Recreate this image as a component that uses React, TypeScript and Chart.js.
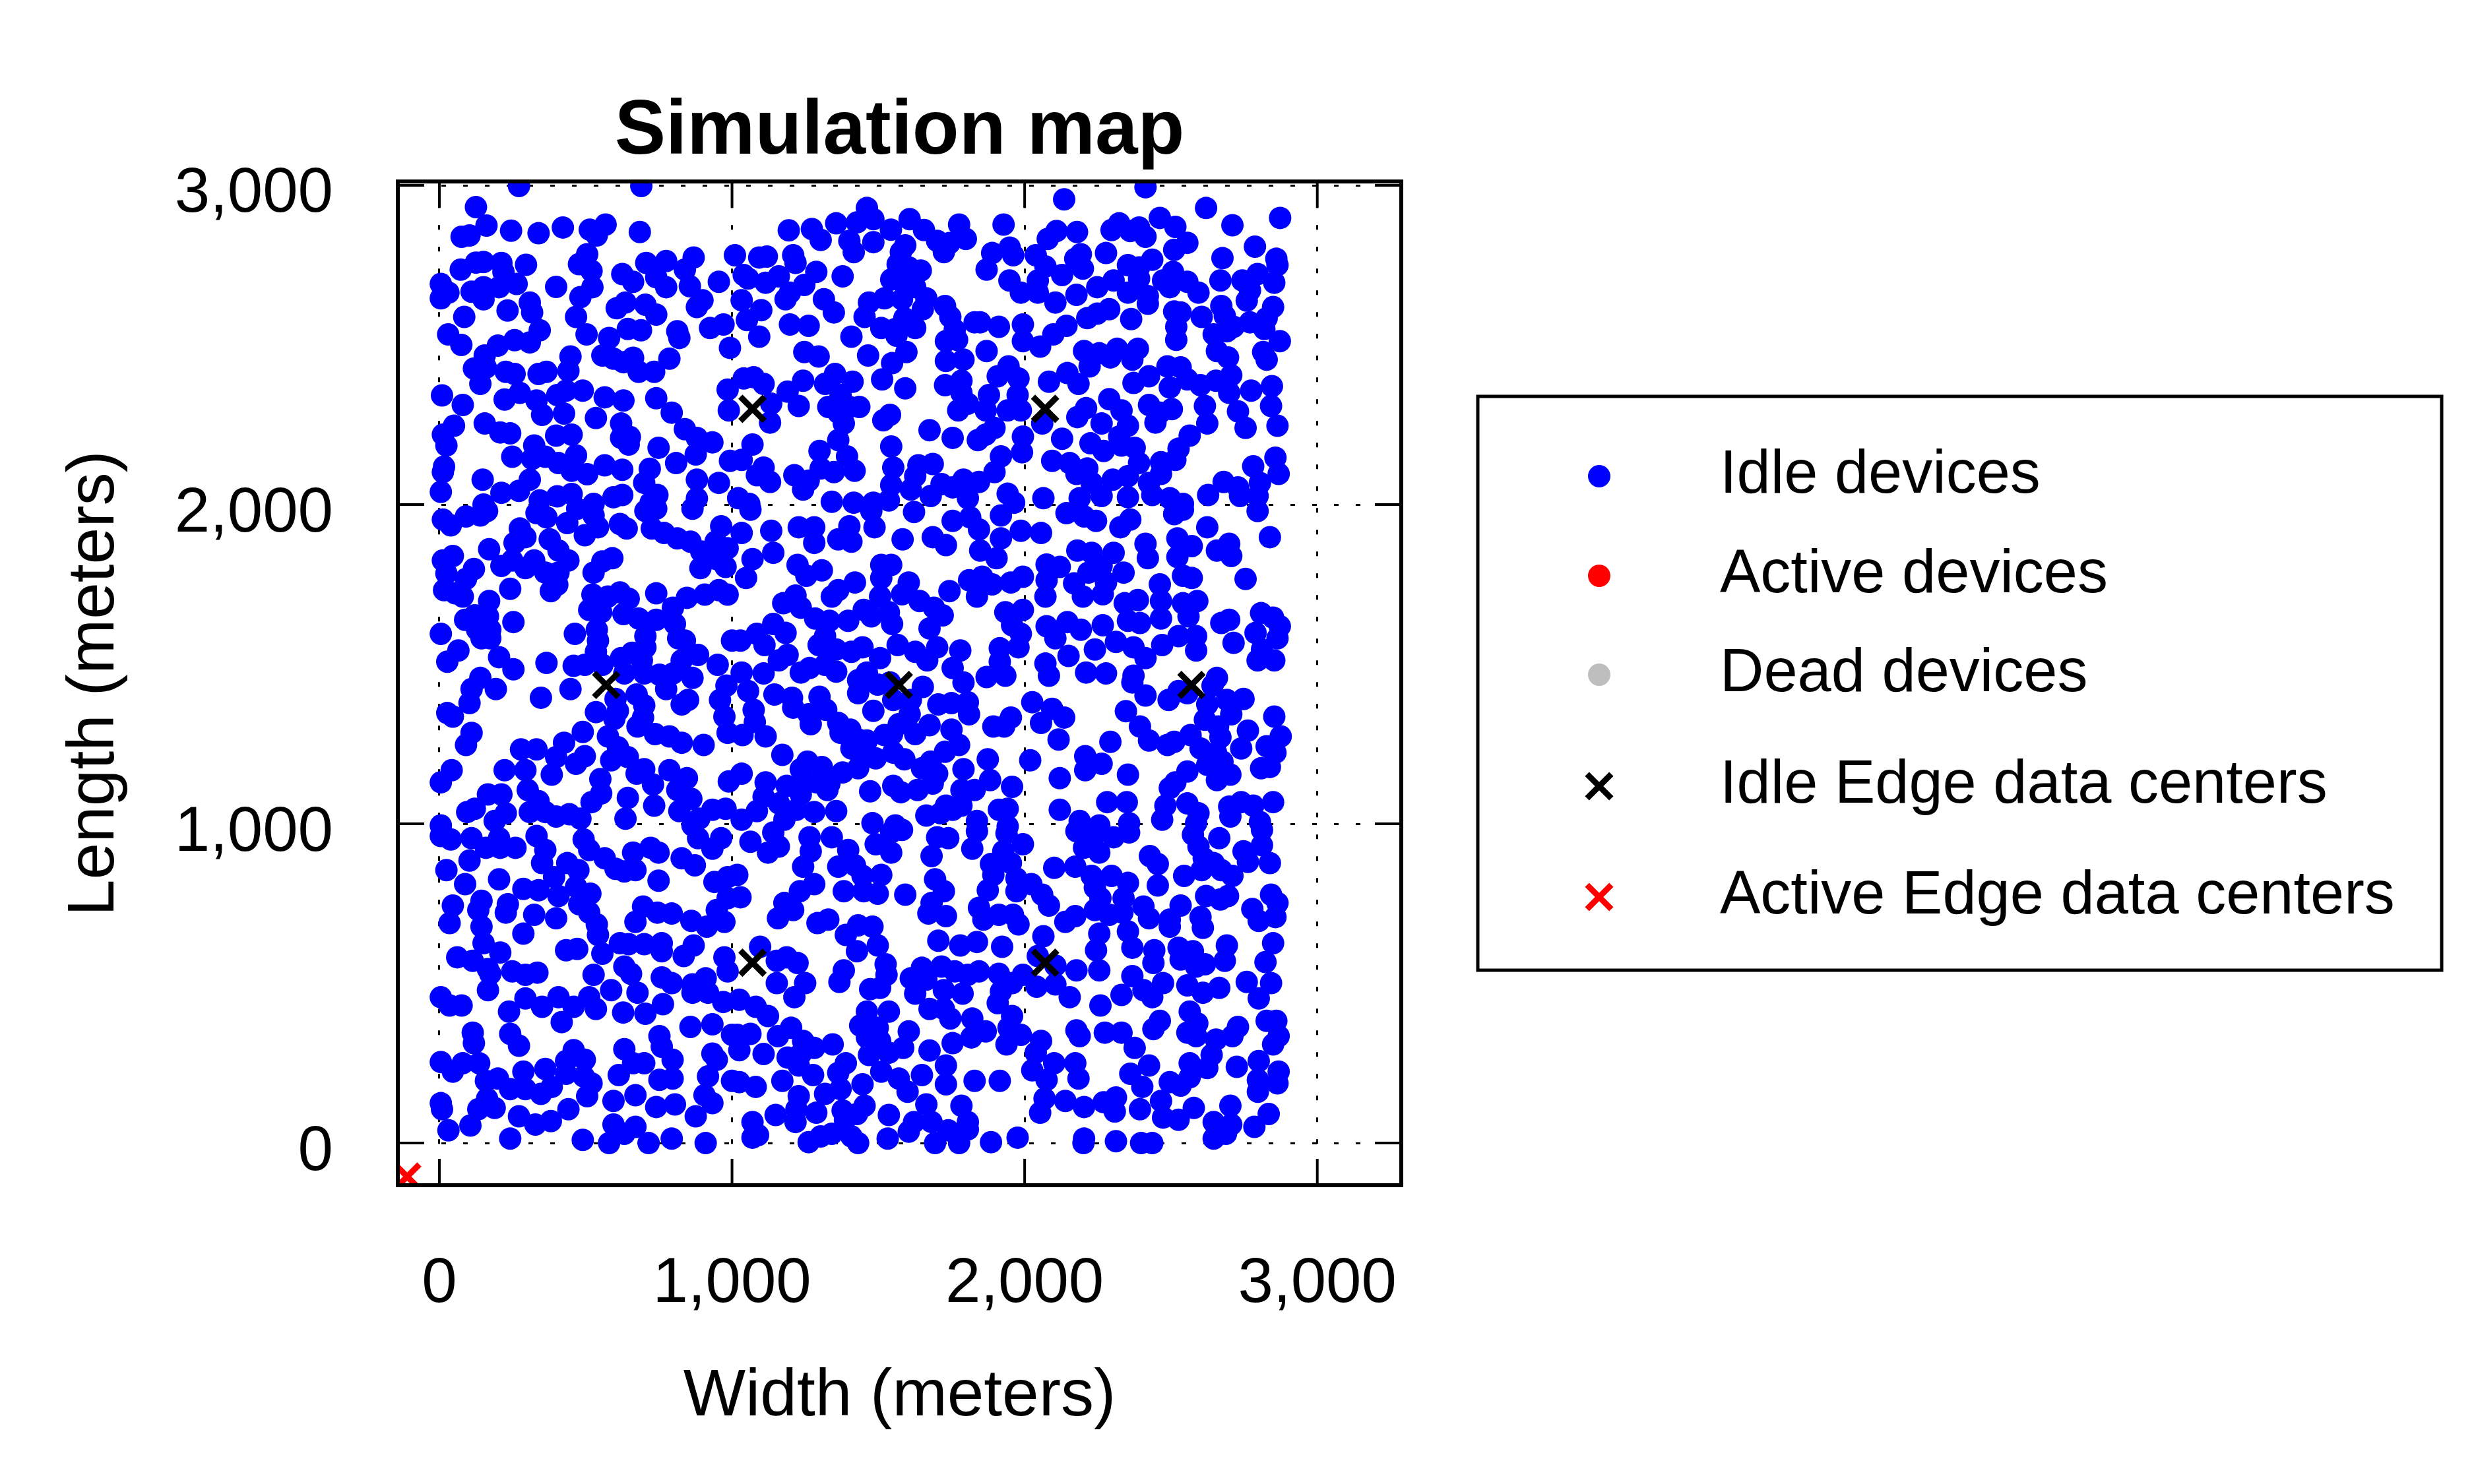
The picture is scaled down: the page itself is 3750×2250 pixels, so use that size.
import React, { useEffect, useRef } from "react";
import { Chart, registerables } from "chart.js";
import { drawPoint } from "chart.js/helpers";

Chart.register(...registerables);

const xTicks = [0, 1000, 2000, 3000];
const yTicks = [0, 1000, 2000, 3000];

// device positions in meters
const idleDevicesTop: [number, number][] = [
  [272,2998],[690,2998],[125,2932],[161,2874],[76,2839],[103,2843],[245,2858],[339,2850],[422,2868],[514,2861],[538,2843],[568,2877],[685,2854],[505,2784],[477,2753],[520,2732],[73,2736],[125,2758],[151,2760],[212,2757],[219,2729],[296,2751],[5,2691],[31,2664],[5,2646],[110,2667],[151,2681],[151,2643],[204,2681],[264,2691],[399,2682],[309,2633],[317,2602],[233,2608],[85,2588],[343,2546],[30,2533],[75,2500],[155,2467],[200,2498],[257,2515],[309,2508],[118,2426],[140,2378],[159,2429],[227,2416],[257,2409],[339,2409],[366,2416],[441,2419],[448,2464],[482,2650],[523,2681],[467,2588],[503,2533],[625,2722],[662,2698],[707,2757],[775,2763],[869,2774],[741,2712],[775,2681],[839,2736],[856,2684],[955,2698],[606,2615],[636,2633],[704,2626],[741,2595],[880,2619],[899,2640],[644,2550],[689,2546],[580,2522],[813,2543],[820,2522],[925,2553],[971,2564],[993,2491],[557,2467],[595,2457],[629,2446],[662,2460],[681,2416],[734,2416],[786,2457],[9,2342],[80,2312],[223,2329],[275,2350],[332,2326],[351,2281],[403,2343],[426,2285],[490,2357],[433,2357],[565,2336],[629,2326],[535,2271],[621,2254],[621,2209],[651,2212],[647,2188],[741,2333],[794,2288],[839,2236],[880,2209],[876,2157],[933,2195],[985,2360],[989,2295],[50,2247],[12,2219],[24,2185],[155,2254],[208,2226],[242,2223],[399,2216],[452,2219],[324,2185],[249,2150],[317,2143],[362,2150],[407,2130],[467,2154],[452,2106],[505,2095],[565,2123],[625,2109],[719,2112],[749,2178],[809,2130],[16,2119],[12,2102],[148,2078],[5,2040],[212,2037],[272,2043],[309,2078],[343,2013],[403,2026],[452,2033],[527,2002],[595,2023],[625,2030],[700,2068],[745,2030],[880,2078],[880,2019],[955,2068],[993,2137],[722,2006],[151,2000],
  [1461,2929],[1483,2894],[1427,2884],[1356,2881],[1273,2863],[1303,2829],[1194,2859],[1401,2826],[1416,2791],[1483,2822],[1543,2861],[1607,2894],[1656,2860],[1701,2826],[1724,2791],[1743,2819],[1776,2877],[1799,2832],[1928,2877],[1889,2788],[1949,2805],[1961,2781],[1870,2736],[1948,2702],[1987,2664],[1592,2812],[1577,2791],[1566,2753],[1604,2743],[1645,2733],[1544,2705],[1581,2698],[1626,2681],[1664,2646],[1728,2622],[1746,2588],[1652,2612],[1581,2643],[1521,2646],[1468,2633],[1453,2588],[1510,2553],[1559,2550],[1589,2584],[1626,2553],[1562,2529],[1761,2547],[1731,2512],[1769,2516],[1829,2571],[1848,2571],[1912,2557],[1994,2564],[1994,2512],[1870,2481],[1731,2450],[1791,2454],[1784,2388],[1728,2374],[1784,2350],[1806,2316],[1773,2295],[1878,2343],[1867,2295],[1908,2402],[1945,2433],[1979,2395],[1976,2343],[1942,2295],[1987,2295],[1897,2240],[1867,2219],[1840,2202],[1754,2209],[1675,2233],[1994,2213],[1991,2164],[1919,2151],[1897,2102],[1844,2071],[1791,2078],[1754,2054],[1806,2020],[1942,2034],[1964,2006],[1716,2064],[1679,2027],[1686,2127],[1637,2123],[1626,2089],[1611,2047],[1551,2116],[1544,2182],[1544,2061],[1536,2013],[1483,2006],[1416,2006],[1341,2009],[1419,2106],[1393,2151],[1348,2102],[1303,2113],[1299,2168],[1363,2202],[1382,2254],[1363,2288],[1401,2306],[1435,2306],[1329,2306],[1371,2343],[1352,2409],[1412,2385],[1318,2378],[1243,2388],[1190,2354],[1228,2309],[1134,2316],[1130,2257],[1108,2378],[1074,2399],[1040,2395],[1070,2188],[1033,2140],[1108,2116],[1085,2092],[1130,2071],[1213,2092],[1262,2075],[1243,2047],[1021,2020],[1059,2002],[1540,2281],[1517,2264],[1513,2392],[1547,2443],[1596,2478],[1465,2467],[1592,2364],[1408,2526],[1247,2478],[1296,2464],[1093,2526],[1051,2578],[1100,2609],[1033,2640],[1198,2564],[1262,2560],[1314,2643],[1348,2602],[1378,2715],[1288,2729],[1247,2688],[1183,2643],[1198,2664],[1160,2715],[1115,2695],[1055,2708],[1093,2774],[1119,2777],[1209,2781],[1217,2757],[1010,2781],[1040,2719],
  [2413,2994],[2135,2956],[2620,2929],[2710,2875],[2873,2898],[2462,2898],[2515,2870],[2556,2820],[2511,2798],[2391,2868],[2361,2857],[2323,2881],[2297,2860],[2413,2839],[2109,2857],[2079,2832],[2179,2854],[2787,2808],[2676,2772],[2860,2770],[2864,2750],[2278,2788],[2192,2784],[2173,2770],[2199,2739],[2038,2781],[2071,2746],[2045,2702],[2128,2719],[2045,2664],[2105,2633],[2177,2657],[2248,2681],[2304,2702],[2353,2750],[2391,2743],[2436,2767],[2391,2708],[2353,2664],[2421,2653],[2421,2629],[2507,2729],[2473,2702],[2496,2681],[2556,2698],[2594,2664],[2669,2702],[2744,2702],[2796,2722],[2853,2695],[2759,2639],[2770,2671],[2849,2619],[2827,2584],[2770,2571],[2819,2550],[2872,2512],[2815,2478],[2827,2454],[2511,2605],[2533,2602],[2518,2557],[2518,2516],[2605,2588],[2672,2622],[2684,2591],[2714,2557],[2646,2533],[2691,2543],[2657,2481],[2695,2461],[2706,2405],[2654,2388],[2699,2350],[2774,2357],[2845,2371],[2842,2309],[2864,2247],[2729,2292],[2755,2240],[2616,2309],[2624,2254],[2564,2216],[2526,2175],[2515,2140],[2466,2133],[2466,2096],[2425,2068],[2436,2030],[2496,2020],[2541,2002],[2627,2030],[2680,2071],[2729,2054],[2736,2027],[2781,2120],[2804,2068],[2796,2027],[2857,2147],[2868,2096],[2488,2433],[2533,2430],[2556,2392],[2601,2374],[2496,2367],[2425,2402],[2372,2381],[2425,2312],[2447,2257],[2503,2299],[2462,2288],[2387,2488],[2368,2454],[2316,2488],[2293,2461],[2255,2474],[2222,2433],[2203,2481],[2289,2330],[2331,2295],[2353,2247],[2323,2213],[2263,2254],[2210,2302],[2180,2274],[2146,2412],[2184,2378],[2083,2385],[2060,2254],[2128,2206],[2225,2192],[2094,2137],[2154,2130],[2214,2113],[2177,2096],[2270,2168],[2331,2185],[2376,2178],[2391,2130],[2353,2089],[2301,2078],[2229,2068],[2188,2020],[2263,2027],[2353,2023],[2064,2020],[2143,2560],[2098,2533],[2053,2495],[2214,2584],[2248,2598],[2289,2612],[2364,2581],
];

const idleDevicesMiddle: [number, number][] = [
  [12,1953],[39,1935],[91,1963],[140,1966],[163,1980],[275,1925],[294,1898],[332,1973],[366,1960],[437,1942],[471,1987],[527,1966],[542,1929],[497,1904],[617,1939],[640,1925],[704,1980],[741,1987],[865,1987],[726,1925],[768,1911],[813,1894],[858,1884],[895,1853],[892,1801],[948,1829],[978,1805],[963,1932],[944,1884],[985,1863],[170,1860],[257,1880],[377,1891],[407,1856],[441,1825],[46,1839],[12,1825],[24,1784],[118,1798],[91,1767],[212,1808],[249,1825],[294,1801],[324,1825],[362,1787],[407,1787],[403,1749],[381,1729],[527,1787],[557,1822],[591,1832],[16,1732],[54,1722],[80,1712],[242,1736],[170,1698],[88,1639],[121,1653],[166,1650],[129,1608],[174,1608],[144,1581],[174,1581],[253,1632],[5,1595],[65,1543],[27,1508],[204,1522],[253,1484],[366,1504],[140,1457],[110,1422],[193,1422],[103,1378],[27,1347],[46,1336],[110,1285],[91,1247],[347,1395],[448,1422],[523,1718],[512,1670],[576,1712],[617,1725],[647,1705],[553,1663],[629,1657],[681,1643],[741,1722],[741,1639],[798,1677],[846,1708],[907,1718],[955,1732],[985,1718],[805,1626],[704,1588],[704,1553],[816,1581],[839,1574],[1000,1574],[463,1595],[538,1608],[542,1574],[535,1539],[459,1495],[497,1498],[557,1498],[621,1519],[659,1536],[632,1471],[692,1512],[700,1471],[752,1467],[775,1422],[798,1471],[828,1512],[884,1529],[865,1457],[951,1498],[981,1433],[828,1374],[850,1388],[959,1388],[974,1336],[985,1285],[674,1405],[700,1371],[696,1333],[677,1305],[737,1281],[786,1274],[828,1254],[903,1247],[602,1391],[610,1354],[598,1329],[535,1350],[490,1288],[576,1274],[610,1240],[644,1209],[587,1199],[497,1212],[467,1188],[426,1254],[399,1209],[384,1154],[332,1233],[279,1233],[294,1168],[223,1168],[42,1168],[5,1130],[700,1171],[674,1157],[730,1123],[786,1168],[846,1143],[813,1106],[861,1078],[820,1040],[734,1057],[644,1081],[636,1016],[550,1140],[553,1095],[520,1068],[989,1133],[978,1047],[933,1044],[888,1016],[302,1106],[339,1071],[362,1037],[309,1037],[399,1023],[444,1030],[482,1016],[166,1092],[212,1092],[121,1047],[95,1037],[227,1033],[189,1009],[5,995],[865,995],
  [1063,1984],[1033,1911],[1070,1829],[1048,1770],[1134,1918],[1141,1849],[1228,1929],[1281,1929],[1281,1880],[1224,1811],[1254,1777],[1307,1794],[1363,1891],[1401,1932],[1408,1884],[1487,1929],[1476,1980],[1622,1977],[1583,1891],[1686,1898],[1731,1873],[1754,1949],[1814,1960],[1844,1922],[1848,1856],[1919,1894],[1919,1966],[1987,1918],[1904,1832],[1810,1763],[1855,1774],[1889,1750],[1953,1756],[1994,1774],[1837,1712],[1743,1729],[1510,1811],[1544,1811],[1510,1770],[1604,1756],[1420,1756],[1363,1732],[1341,1712],[1506,1712],[1175,1691],[1217,1715],[1235,1677],[1284,1643],[1333,1636],[1397,1636],[1450,1670],[1476,1650],[1536,1663],[1581,1719],[1641,1698],[1690,1677],[1720,1653],[1675,1612],[1547,1626],[1141,1626],[1085,1595],[1183,1598],[1029,1574],[1111,1560],[1190,1529],[1296,1560],[1318,1588],[1356,1546],[1408,1539],[1446,1553],[1506,1519],[1566,1560],[1626,1539],[1667,1512],[1701,1553],[1780,1543],[1754,1488],[1791,1443],[1806,1381],[1810,1343],[1750,1378],[1705,1374],[1652,1429],[1611,1388],[1915,1550],[1934,1663],[1957,1622],[1994,1670],[1987,1595],[1979,1553],[1915,1508],[1870,1460],[1934,1464],[1953,1333],[1893,1305],[1930,1305],[1750,1295],[1776,1247],[1728,1226],[1874,1202],[1791,1171],[1882,1137],[1957,1116],[1942,1047],[1912,1044],[1829,1106],[1784,1106],[1784,1057],[1731,1057],[1664,1026],[1837,1009],[1942,992],[1701,1157],[1686,1126],[1634,1106],[1577,1099],[1551,1119],[1472,1102],[1649,1174],[1679,1195],[1589,1202],[1551,1223],[1491,1205],[1431,1174],[1378,1161],[1408,1236],[1442,1202],[1461,1261],[1371,1285],[1404,1295],[1431,1264],[1521,1278],[1547,1281],[1570,1312],[1626,1281],[1675,1309],[1607,1343],[1551,1388],[1483,1354],[1431,1409],[1431,1450],[1461,1474],[1498,1436],[1540,1443],[1356,1477],[1318,1498],[1265,1488],[1235,1474],[1160,1512],[1108,1471],[1033,1474],[1055,1416],[1145,1405],[1205,1395],[1299,1398],[1322,1357],[1209,1364],[1262,1343],[1269,1312],[1363,1316],[1074,1357],[1078,1319],[1036,1278],[1115,1274],[1172,1216],[1033,1157],[1115,1130],[1187,1119],[1235,1171],[1258,1195],[1307,1178],[1333,1126],[1288,1130],[1250,1133],[1235,1092],[1326,1106],[1108,1085],[1085,1040],[1160,1064],[1220,1044],[1281,1037],[1356,1040],[1179,1013],[1033,1013],[1480,1002],[1558,995],[1713,1033],[1754,1044],
  [2143,1973],[2203,1963],[2244,1949],[2327,1929],[2361,1953],[2511,1970],[2541,1984],[2796,1980],[2624,1929],[2838,1898],[2056,1911],[2180,1856],[2229,1849],[2304,1849],[2075,1812],[2120,1805],[2075,1763],[2169,1753],[2218,1787],[2263,1808],[2338,1787],[2278,1756],[2199,1712],[2267,1719],[2413,1877],[2421,1832],[2522,1894],[2571,1870],[2522,1836],[2657,1856],[2699,1877],[2706,1839],[2755,1767],[2541,1777],[2571,1770],[2462,1750],[2590,1698],[2541,1691],[2466,1698],[2387,1701],[2342,1691],[2353,1636],[2394,1629],[2466,1643],[2560,1650],[2586,1588],[2526,1588],[2470,1560],[2586,1543],[2071,1712],[2075,1619],[2105,1581],[2146,1632],[2192,1608],[2267,1622],[2312,1570],[2240,1546],[2150,1526],[2210,1474],[2278,1471],[2372,1553],[2413,1519],[2372,1464],[2368,1443],[2413,1402],[2346,1353],[2071,1502],[2083,1464],[2672,1629],[2699,1639],[2714,1567],[2808,1660],[2849,1646],[2872,1619],[2864,1581],[2789,1598],[2796,1512],[2853,1512],[2811,1546],[2657,1457],[2642,1433],[2526,1416],[2492,1388],[2556,1409],[2624,1374],[2691,1388],[2748,1391],[2706,1343],[2616,1326],[2661,1305],[2567,1278],[2601,1236],[2669,1271],[2654,1223],[2676,1195],[2624,1185],[2657,1137],[2703,1154],[2556,1164],[2515,1130],[2496,1112],[2481,1057],[2470,1013],[2556,1064],[2594,1033],[2586,1002],[2699,1054],[2703,1023],[2740,1068],[2781,1057],[2849,1068],[2804,1006],[2853,1336],[2763,1292],[2740,1236],[2827,1243],[2875,1274],[2857,1223],[2808,1174],[2838,1178],[2394,1305],[2425,1261],[2488,1247],[2511,1257],[2293,1257],[2207,1212],[2207,1168],[2263,1188],[2353,1154],[2120,1143],[2116,1264],[2135,1333],[2094,1360],[2056,1316],[2026,1381],[2019,1199],[2120,1044],[2282,1068],[2349,1068],[2188,1009],[2255,995],[2357,1002],
];

const idleDevicesBottom: [number, number][] = [
  [5,962],[39,951],[110,955],[159,925],[204,955],[208,925],[260,925],[332,962],[362,918],[351,877],[493,951],[512,918],[437,877],[475,855],[565,892],[602,859],[632,851],[670,855],[662,910],[722,925],[749,910],[828,892],[873,870],[884,955],[933,922],[963,955],[940,818],[985,833],[749,822],[24,855],[103,885],[88,811],[204,826],[144,759],[133,730],[46,744],[35,689],[234,748],[227,722],[287,796],[339,792],[392,833],[407,774],[324,715],[287,656],[399,704],[467,803],[516,781],[478,748],[512,722],[538,685],[542,652],[144,678],[151,626],[208,597],[61,582],[114,571],[166,545],[174,530],[249,538],[294,527],[335,534],[166,479],[5,457],[35,431],[76,431],[294,453],[238,412],[351,427],[407,457],[418,379],[459,427],[433,604],[471,608],[557,593],[527,527],[512,457],[535,420],[617,626],[647,623],[587,479],[632,553],[655,530],[677,471],[628,409],[704,405],[764,435],[670,693],[696,741],[745,722],[794,719],[861,696],[914,678],[974,693],[948,730],[985,767],[700,623],[760,626],[760,601],[835,586],[869,619],[974,582],[985,538],[760,519],[794,501],[865,497],[910,516],[865,471],[918,471],[970,442],[858,364],[933,372],[752,335],[760,302],[797,261],[933,280],[948,261],[1000,339],[632,294],[700,250],[662,250],[613,213],[752,198],[797,202],[805,121],[741,113],[670,150],[918,209],[1000,195],[906,150],[933,125],[876,84],[910,0],[794,14],[715,0],[670,51],[595,58],[595,132],[580,0],[632,29],[490,10],[505,147],[441,106],[520,187],[493,209],[433,217],[497,261],[459,291],[433,257],[362,232],[287,224],[242,169],[294,169],[347,154],[384,176],[272,84],[328,58],[381,69],[242,14],[200,202],[159,195],[163,139],[189,110],[133,106],[106,55],[31,40],[5,125],[9,106],[5,254],[46,224],[80,250],[136,250],[114,346],[118,313],[242,342],[272,305],
  [1063,944],[1123,910],[1160,929],[1141,973],[1018,840],[1029,770],[1265,958],[1269,914],[1243,866],[1341,958],[1281,811],[1232,789],[1179,752],[1157,704],[1209,730],[1397,918],[1363,866],[1420,870],[1446,837],[1510,840],[1382,789],[1450,789],[1498,781],[1491,936],[1544,910],[1544,973],[1581,981],[1592,778],[1701,958],[1739,955],[1682,899],[1821,922],[1837,977],[1938,970],[1994,936],[1927,914],[1885,874],[1953,877],[1893,840],[1972,829],[1874,792],[1972,789],[1694,826],[1724,789],[1682,752],[1671,719],[1731,711],[1844,737],[1859,700],[1912,715],[1960,715],[1979,685],[1292,689],[1329,700],[1389,652],[1431,682],[1480,678],[1427,601],[1498,619],[1525,560],[1528,527],[1472,482],[1506,486],[1382,541],[1367,505],[1096,615],[1153,571],[1187,582],[1224,564],[1153,501],[1250,501],[1213,457],[1025,449],[1081,427],[1123,398],[1018,339],[1063,342],[1025,291],[1108,279],[1157,335],[1202,361],[1243,320],[1281,298],[1344,309],[1190,268],[1235,279],[1025,191],[1081,176],[1172,195],[1228,243],[1277,213],[1363,220],[1389,250],[1446,184],[1371,169],[1318,154],[1228,147],[1220,106],[1288,95],[1149,88],[1217,66],[1070,66],[1070,17],[1089,25],[1262,3],[1303,21],[1341,29],[1386,73],[1378,102],[1453,117],[1427,91],[1431,0],[1408,21],[1536,88],[1532,14],[1604,36],[1622,66],[1664,121],[1682,66],[1694,0],[1739,40],[1776,0],[1806,43],[1806,66],[1885,3],[1976,17],[1784,117],[1731,184],[1829,195],[1915,195],[1731,243],[1649,213],[1675,290],[1754,313],[1818,331],[1867,350],[1938,309],[1987,339],[1945,361],[1957,398],[1908,438],[1919,475],[1957,501],[1994,527],[1912,530],[1844,538],[1806,527],[1761,538],[1788,468],[1821,390],[1746,390],[1724,420],[1675,420],[1626,468],[1664,512],[1611,516],[1716,553],[1724,479],[1649,549],[1705,634],[1780,619],[1837,630],[1923,615],[1461,412],[1536,412],[1438,368],[1498,361],[1461,331],[1506,320],[1604,350],[1585,298],[1536,283],[1468,276],[1510,224],[1570,202],[1600,161],
  [2177,977],[2240,966],[2304,958],[2357,973],[2203,925],[2255,910],[2575,966],[2594,929],[2665,955],[2811,981],[2811,933],[2748,914],[2763,881],[2838,877],[2428,899],[2455,874],[2612,892],[2646,877],[2605,855],[2545,837],[2672,855],[2710,837],[2101,862],[2173,866],[2229,837],[2297,837],[2353,815],[2455,807],[2023,811],[2060,778],[2083,744],[2240,800],[2259,767],[2338,767],[2240,730],[2173,711],[2139,693],[2289,715],[2334,722],[2406,741],[2425,704],[2496,700],[2496,678],[2533,744],[2601,708],[2609,674],[2620,774],[2669,763],[2695,774],[2778,733],[2800,696],[2842,778],[2864,752],[2857,708],[2849,626],[2064,648],[2255,656],[2244,604],[2353,663],[2368,612],[2443,604],[2440,564],[2526,612],[2575,601],[2533,575],[2586,553],[2616,560],[2691,619],[2684,571],[2823,567],[2759,505],[2842,501],[2800,453],[2665,486],[2609,471],[2556,494],[2564,412],[2590,375],[2556,346],[2586,335],[2462,383],[2440,357],[2473,501],[2436,457],[2406,479],[2368,523],[2331,464],[2259,431],[2177,541],[2255,541],[2105,556],[2045,586],[2041,490],[2105,497],[2154,457],[2177,353],[2188,335],[2274,346],[2331,346],[2376,298],[2056,320],[2038,283],[2026,228],[2075,198],[2101,250],[2173,250],[2184,202],[2068,139],[2053,95],[2139,132],[2203,113],[2270,128],[2312,143],[2308,99],[2394,106],[2425,243],[2361,217],[2402,176],[2466,132],[2496,191],[2533,180],[2564,250],[2564,206],[2624,235],[2639,276],[2654,324],[2710,335],[2729,364],[2725,239],[2800,257],[2849,309],[2868,335],[2827,383],[2860,383],[2868,224],[2797,198],[2864,187],[2797,161],[2473,80],[2526,73],[2578,110],[2703,117],[2646,66],[2706,58],[2688,29],[2646,14],[2785,51],[2834,91],[2203,14],[2201,0],[2312,6],[2398,0],[2436,0],
];

const activeDevices: [number, number][] = [];
const deadDevices: [number, number][] = [];

const idleEdgeDataCenters: [number, number][] = [
  [1070, 2300], [2070, 2300],
  [570, 1435], [1570, 1435], [2570, 1435],
  [1070, 565], [2070, 565],
];
const activeEdgeDataCenters: [number, number][] = [[-110, -105]];

const fontFamily = "'Liberation Sans', Arial, Helvetica, sans-serif";

const toPoints = (list: [number, number][]) => list.map(([x, y]) => ({ x, y }));
const thousands = (v: number | string) => Number(v).toLocaleString("en-US");

// MATLAB-like box: solid frame with inward tick marks on all four sides
const framePlugin = {
  id: "mapFrame",
  afterDraw(chart: any) {
    const { ctx, chartArea: a, scales } = chart;
    const len = 40;
    ctx.save();
    ctx.strokeStyle = "#000";
    ctx.lineWidth = 4;
    ctx.beginPath();
    xTicks.forEach((v) => {
      const px = scales.x.getPixelForValue(v);
      ctx.moveTo(px, a.top);
      ctx.lineTo(px, a.top + len);
      ctx.moveTo(px, a.bottom);
      ctx.lineTo(px, a.bottom - len);
    });
    yTicks.forEach((v) => {
      const py = scales.y.getPixelForValue(v);
      ctx.moveTo(a.left, py);
      ctx.lineTo(a.left + len, py);
      ctx.moveTo(a.right, py);
      ctx.lineTo(a.right - len, py);
    });
    ctx.stroke();
    ctx.lineWidth = 6;
    ctx.strokeRect(a.left, a.top, a.right - a.left, a.bottom - a.top);
    ctx.restore();
  },
};

// boxed legend to the right of the map
const legendBox = { left: 2240, top: 601, right: 3701, bottom: 1471 };
const legendRows = [722, 873, 1023, 1192, 1360];
const legendMarkerX = 2424;
const legendTextX = 2607;

const legendPlugin = {
  id: "mapLegend",
  afterDraw(chart: any) {
    const { ctx } = chart;
    ctx.save();
    ctx.strokeStyle = "#000";
    ctx.lineWidth = 5;
    ctx.strokeRect(
      legendBox.left,
      legendBox.top,
      legendBox.right - legendBox.left,
      legendBox.bottom - legendBox.top
    );
    chart.data.datasets.forEach((ds: any, i: number) => {
      const y = legendRows[i];
      ctx.fillStyle = ds.pointBackgroundColor;
      ctx.strokeStyle = ds.pointBorderColor;
      ctx.lineWidth = ds.pointBorderWidth;
      drawPoint(
        ctx,
        { pointStyle: ds.pointStyle, radius: ds.pointRadius, borderWidth: ds.pointBorderWidth, rotation: 0 },
        legendMarkerX,
        y
      );
      ctx.fillStyle = "#000";
      ctx.font = `92px ${fontFamily}`;
      ctx.textAlign = "left";
      ctx.textBaseline = "middle";
      ctx.fillText(ds.label, legendTextX, y);
    });
    ctx.restore();
  },
};

const App: React.FC = () => {
  const canvasRef = useRef<HTMLCanvasElement>(null);

  useEffect(() => {
    if (!canvasRef.current) return;
    Chart.defaults.font.family = fontFamily;
    Chart.defaults.color = "#000";

    const dot = (color: string) => ({
      pointStyle: "circle",
      pointRadius: 17,
      pointBackgroundColor: color,
      pointBorderColor: color,
      pointBorderWidth: 0,
      backgroundColor: color,
      borderColor: color,
    });
    const cross = (color: string) => ({
      pointStyle: "crossRot",
      pointRadius: 26,
      pointBackgroundColor: color,
      pointBorderColor: color,
      pointBorderWidth: 9,
      backgroundColor: color,
      borderColor: color,
    });

    const chart = new Chart(canvasRef.current, {
      type: "scatter",
      data: {
        datasets: [
          {
            label: "Idle devices",
            data: toPoints([...idleDevicesTop, ...idleDevicesMiddle, ...idleDevicesBottom]),
            ...dot("#0000ff"),
            order: 4,
          },
          { label: "Active devices", data: toPoints(activeDevices), ...dot("#ff0000"), order: 3 },
          { label: "Dead devices", data: toPoints(deadDevices), ...dot("#bebebe"), order: 2 },
          {
            label: "Idle Edge data centers",
            data: toPoints(idleEdgeDataCenters),
            ...cross("#000000"),
            order: 1,
          },
          {
            label: "Active Edge data centers",
            data: toPoints(activeEdgeDataCenters),
            ...cross("#ff0000"),
            order: 0,
          },
        ],
      },
      options: {
        responsive: false,
        animation: false,
        devicePixelRatio: 1,
        events: [],
        layout: { padding: { left: 0, right: 1626, top: 0, bottom: 0 } },
        plugins: {
          legend: { display: false },
          tooltip: { enabled: false },
          title: {
            display: true,
            fullSize: false,
            text: "Simulation map",
            color: "#000",
            font: { size: 116, weight: "bold" },
            padding: { top: 131, bottom: 5 },
          },
        },
        scales: {
          x: {
            type: "linear",
            min: -142,
            max: 3287,
            afterBuildTicks: (s: any) => {
              s.ticks = xTicks.map((value) => ({ value }));
            },
            afterFit: (s: any) => {
              s.height = 453;
            },
            grid: { color: "#000", lineWidth: 3, drawTicks: false },
            border: { display: false, dash: [7, 26] },
            ticks: {
              padding: 93,
              color: "#000",
              font: { size: 96 },
              maxRotation: 0,
              callback: thousands,
            },
            title: {
              display: true,
              text: "Width (meters)",
              color: "#000",
              font: { size: 100 },
              padding: { top: 0, bottom: 72 },
            },
          },
          y: {
            type: "linear",
            min: -132,
            max: 3012,
            afterBuildTicks: (s: any) => {
              s.ticks = yTicks.map((value) => ({ value }));
            },
            afterFit: (s: any) => {
              s.width = 603;
            },
            grid: { color: "#000", lineWidth: 3, drawTicks: false },
            border: { display: false, dash: [7, 26] },
            ticks: {
              padding: 98,
              labelOffset: 14,
              color: "#000",
              font: { size: 96 },
              callback: thousands,
            },
            title: {
              display: true,
              text: "Length (meters)",
              color: "#000",
              font: { size: 100 },
              padding: { top: 84, bottom: 0 },
            },
          },
        },
      },
      plugins: [framePlugin, legendPlugin],
    } as any);

    return () => {
      chart.destroy();
    };
  }, []);

  return (
    <div style={{ position: "fixed", left: 0, top: 0, width: 3750, height: 2250, background: "#fff" }}>
      <canvas ref={canvasRef} width={3750} height={2250} />
    </div>
  );
};

export default App;
